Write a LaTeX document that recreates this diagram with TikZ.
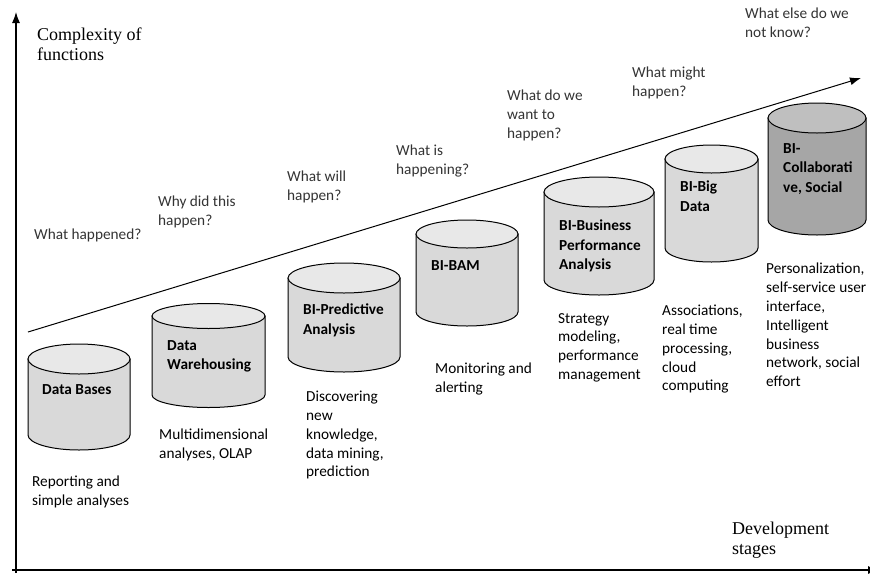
\documentclass[tikz,border=0pt]{standalone}
\usepackage{fontspec}
\setmainfont{Carlito}
\newfontfamily\axisfont{Liberation Serif}
\usepackage{xcolor}
\usetikzlibrary{arrows.meta}
\definecolor{cylside}{HTML}{D9D9D9}
\definecolor{cyltop}{HTML}{E8E8E8}
\definecolor{cyldarkside}{HTML}{A6A6A6}
\definecolor{cyldarktop}{HTML}{BFBFBF}
\tikzstyle{axis} = [draw, line width=1.2pt, -{Latex[length=11pt,width=8pt]}]
\tikzstyle{axistext} = [anchor=north west, inner sep=0pt, align=left, font=\axisfont\fontsize{18}{19.5}\selectfont]
\tikzstyle{question} = [anchor=north west, inner sep=0pt, align=left, text=black!80, font=\fontsize{15.3}{18.8}\selectfont]
\tikzstyle{stagetext} = [anchor=north west, inner sep=0pt, align=left, font=\fontsize{15.3}{18.8}\selectfont]
\tikzstyle{dbtitle} = [anchor=north west, inner sep=0pt, align=left, font=\bfseries\fontsize{15.3}{19.5}\selectfont]
% x left, x right, top centre, bottom centre, y radius, side fill, top fill
\newcommand{\dbcyl}[7]{
  \pgfmathsetmacro\cylrx{(#2-#1)/2}
  \filldraw[fill=#6, line width=1pt] (#1,#3) -- (#1,#4) arc[start angle=180, end angle=0, x radius=\cylrx, y radius=#5] -- (#2,#3) -- cycle;
  \filldraw[fill=#7, line width=1pt] ({(#1+#2)/2},#3) ellipse[x radius=\cylrx, y radius=#5];
}

\begin{document}
\begin{tikzpicture}[x=1pt,y=-1pt]
\useasboundingbox (0,0) rectangle (870,574);
% axes and trend
\coordinate (origin) at (16,573);
\coordinate (y-top) at (16,12);
\coordinate (x-left) at (12,570);
\coordinate (x-end) at (879,570);
\coordinate (trend-start) at (28,332);
\coordinate (trend-end) at (861,78);
\path [axis] (origin) -- (y-top);
\path [axis] (x-left) -- (x-end);
\path [axis, line width=1pt] (trend-start) -- (trend-end);
\node [axistext] (y-label) at (37,28) {Complexity of\\functions};
\node [axistext] (x-label) at (732,522) {Development\\stages};

% stages
\dbcyl{28}{130}{359}{435}{15}{cylside}{cyltop}
\dbcyl{152}{265}{316}{395}{12.5}{cylside}{cyltop}
\dbcyl{288}{400}{278}{357}{15}{cylside}{cyltop}
\dbcyl{416}{518}{234}{312}{14}{cylside}{cyltop}
\dbcyl{544}{654}{192}{280}{15}{cylside}{cyltop}
\dbcyl{665}{758}{159}{248}{14}{cylside}{cyltop}
\dbcyl{768}{866}{118}{220}{15}{cyldarkside}{cyldarktop}

\node [dbtitle] (db-title) at (42,384) {Data Bases};
\node [dbtitle] (dw-title) at (167,340) {Data\\Warehousing};
\node [dbtitle] (pred-title) at (303,304) {BI-Predictive\\Analysis};
\node [dbtitle] (bam-title) at (431,260) {BI-BAM};
\node [dbtitle] (bpa-title) at (559,220) {BI-Business\\Performance\\Analysis};
\node [dbtitle] (big-title) at (680,181) {BI-Big\\Data};
\node [dbtitle] (collab-title) at (783,143) {BI-\\Collaborati\\ve, Social};

% what each stage does
\node [stagetext] (db-text) at (32,476) {Reporting and\\simple analyses};
\node [stagetext] (dw-text) at (159,429) {Multidimensional\\analyses, OLAP};
\node [stagetext] (pred-text) at (306,391) {Discovering\\new\\knowledge,\\data mining,\\prediction};
\node [stagetext] (bam-text) at (435,363) {Monitoring and\\alerting};
\node [stagetext] (bpa-text) at (558,313) {Strategy\\modeling,\\performance\\management};
\node [stagetext] (big-text) at (662,305) {Associations,\\real time\\processing,\\cloud\\computing};
\node [stagetext] (collab-text) at (766,263) {Personalization,\\self-service user\\interface,\\Intelligent\\business\\network, social\\effort};

% questions
\node [question] (q-db) at (34,229) {What happened?};
\node [question] (q-dw) at (158,196) {Why did this\\happen?};
\node [question] (q-pred) at (287,171) {What will\\happen?};
\node [question] (q-bam) at (396,145) {What is\\happening?};
\node [question] (q-bpa) at (507,90) {What do we\\want to\\happen?};
\node [question] (q-big) at (632,67) {What might\\happen?};
\node [question] (q-collab) at (745,8) {What else do we\\not know?};
\end{tikzpicture}
\end{document}
